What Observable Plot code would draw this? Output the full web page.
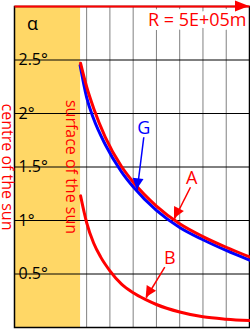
<!DOCTYPE html>
<html><head><meta charset="utf-8">
<script src="https://cdn.jsdelivr.net/npm/d3@7"></script>
<script src="https://cdn.jsdelivr.net/npm/@observablehq/plot@0.6"></script>
<style>html,body{margin:0;padding:0;background:#fff}</style>
</head><body><div id="chart"></div>
<script>
// ---- data ----
const radiusA = [2.74, 3.0, 3.3, 3.8, 4.5, 5, 6, 7, 8, 9, 10];
const alphaA  = [2.47, 2.25, 2.05, 1.78, 1.505, 1.36, 1.135, 0.97, 0.85, 0.75, 0.66];
const radiusG = [2.72, 3.0, 3.3, 3.8, 4.5, 5, 6, 7, 8, 9, 10];
const alphaG  = [2.45, 2.15, 1.95, 1.71, 1.455, 1.315, 1.095, 0.935, 0.82, 0.72, 0.63];
const radiusB = [2.74, 2.9, 3.0, 3.3, 3.6, 4.0, 4.5, 5, 5.5, 6, 7, 8, 9, 10];
const alphaB  = [1.23, 1.07, 0.98, 0.79, 0.66, 0.53, 0.405, 0.325, 0.265, 0.215, 0.145, 0.1, 0.078, 0.065];

const yTicks = [0.5, 1, 1.5, 2, 2.5];
const yTickLabels = ["0.5°", "1°", "1.5°", "2°", "2.5°"];
const xGrid = [1, 2, 3, 4, 5, 6, 7, 8, 9];
const xDomain = [-0.1, 10];
const yDomain = [0, 3];
const sunSurface = [2.74];
const axisLabel = "α";
const scaleLabel = "R = 5E+05m";
const centreLabel = "centre of the sun";
const surfaceLabel = "surface of the sun";

const annotLabels = ["G", "A", "B"];
const annotLabelR = [5.457, 7.52, 6.574];
const annotLabelAlpha = [1.866, 1.393, 0.646];
const arrowFromR = [5.457, 7.463, 6.359];
const arrowFromAlpha = [1.778, 1.311, 0.564];
const arrowToR = [5.173, 6.776, 5.56];
const arrowToAlpha = [1.287, 1.016, 0.278];
const annotColors = ["#0000ff", "#ff0000", "#ff0000"];

// ---- build tables ----
const toRows = (rs, as) => rs.map((r, i) => ({r, a: as[i]}));
const rowsA = toRows(radiusA, alphaA);
const rowsG = toRows(radiusG, alphaG);
const rowsB = toRows(radiusB, alphaB);
const ticks = yTicks.map((v, i) => ({v, label: yTickLabels[i]}));
const annots = annotLabels.map((label, i) => ({
  label, lx: annotLabelR[i], ly: annotLabelAlpha[i],
  x1: arrowFromR[i], y1: arrowFromAlpha[i], x2: arrowToR[i], y2: arrowToAlpha[i], color: annotColors[i]
}));
const topAxis = [{x1: xDomain[0], y1: yDomain[1], x2: xDomain[1], y2: yDomain[1], color: "#ff0000"}];

function arrowHeads(data, length, halfWidth) {
  return (index, scales) => {
    const g = d3.create("svg:g");
    for (const d of data) {
      const x1 = scales.x(d.x1), y1 = scales.y(d.y1), x2 = scales.x(d.x2), y2 = scales.y(d.y2);
      const dx = x2 - x1, dy = y2 - y1, len = Math.hypot(dx, dy);
      const ux = dx / len, uy = dy / len;
      const bx = x2 - ux * length, by = y2 - uy * length;
      g.append("path")
        .attr("d", `M${x2},${y2}L${bx - uy * halfWidth},${by + ux * halfWidth}L${bx + uy * halfWidth},${by - ux * halfWidth}Z`)
        .attr("fill", d.color);
    }
    return g.node();
  };
}

const chart = Plot.plot({
  width: 250,
  height: 330,
  marginLeft: 14,
  marginRight: 1,
  marginTop: 6,
  marginBottom: 3,
  style: {fontFamily: "'Open Sans', sans-serif", fontSize: "16px", background: "white", overflow: "visible"},
  x: {domain: xDomain, axis: null},
  y: {domain: yDomain, axis: null},
  marks: [
    Plot.ruleX(xGrid, {stroke: "#808080", strokeWidth: 1}),
    Plot.rect([{x1: xDomain[0], x2: sunSurface[0]}], {x1: "x1", x2: "x2", y1: yDomain[0], y2: yDomain[1], fill: "#ffd766"}),
    Plot.ruleY(yTicks, {stroke: "black", strokeWidth: 1}),
    Plot.text([scaleLabel], {x: xDomain[1], y: yDomain[1], text: d => d, textAnchor: "end", lineAnchor: "top",
      dx: -3, dy: 6.5, fill: "#ff0000", stroke: "white", strokeWidth: 8, paintOrder: "stroke", fontSize: 18}),
    Plot.frame({stroke: "black", strokeWidth: 1.5}),
    Plot.link(topAxis, {x1: "x1", y1: "y1", x2: "x2", y2: "y2", stroke: "color", strokeWidth: 2}),
    arrowHeads(topAxis, 14, 5.5),
    Plot.text(ticks, {x: xDomain[0], y: "v", text: "label", textAnchor: "start", lineAnchor: "middle", dx: 4, fill: "black", fontSize: 16}),
    Plot.text([axisLabel], {x: xDomain[0], y: yDomain[1], text: d => d, textAnchor: "middle", lineAnchor: "middle", dx: 18, dy: 17.5, fill: "black", fontSize: 18}),
    Plot.text([centreLabel], {x: xDomain[0], y: 1.5, text: d => d, rotate: 90, textAnchor: "middle", lineAnchor: "middle", dx: -7.4, fill: "#ff0000", fontSize: 16}),
    Plot.text([surfaceLabel], {x: sunSurface[0], y: 1.5, text: d => d, rotate: 90, textAnchor: "middle", lineAnchor: "middle", dx: -9.9, fill: "#ff0000", fontSize: 16}),
    Plot.line(rowsG, {x: "r", y: "a", stroke: "#0000ff", strokeWidth: 3, curve: "monotone-x"}),
    Plot.line(rowsA, {x: "r", y: "a", stroke: "#ff0000", strokeWidth: 3, curve: "monotone-x"}),
    Plot.line(rowsB, {x: "r", y: "a", stroke: "#ff0000", strokeWidth: 3, curve: "monotone-x"}),
    Plot.link(annots, {x1: "x1", y1: "y1", x2: "x2", y2: "y2", stroke: "color", strokeWidth: 1.5}),
    arrowHeads(annots, 11, 5.5),
    Plot.text(annots, {x: "lx", y: "ly", text: "label", fill: "color", fontSize: 18, textAnchor: "middle", lineAnchor: "middle"})
  ]
});
document.getElementById("chart").appendChild(chart);
</script>
</body></html>
